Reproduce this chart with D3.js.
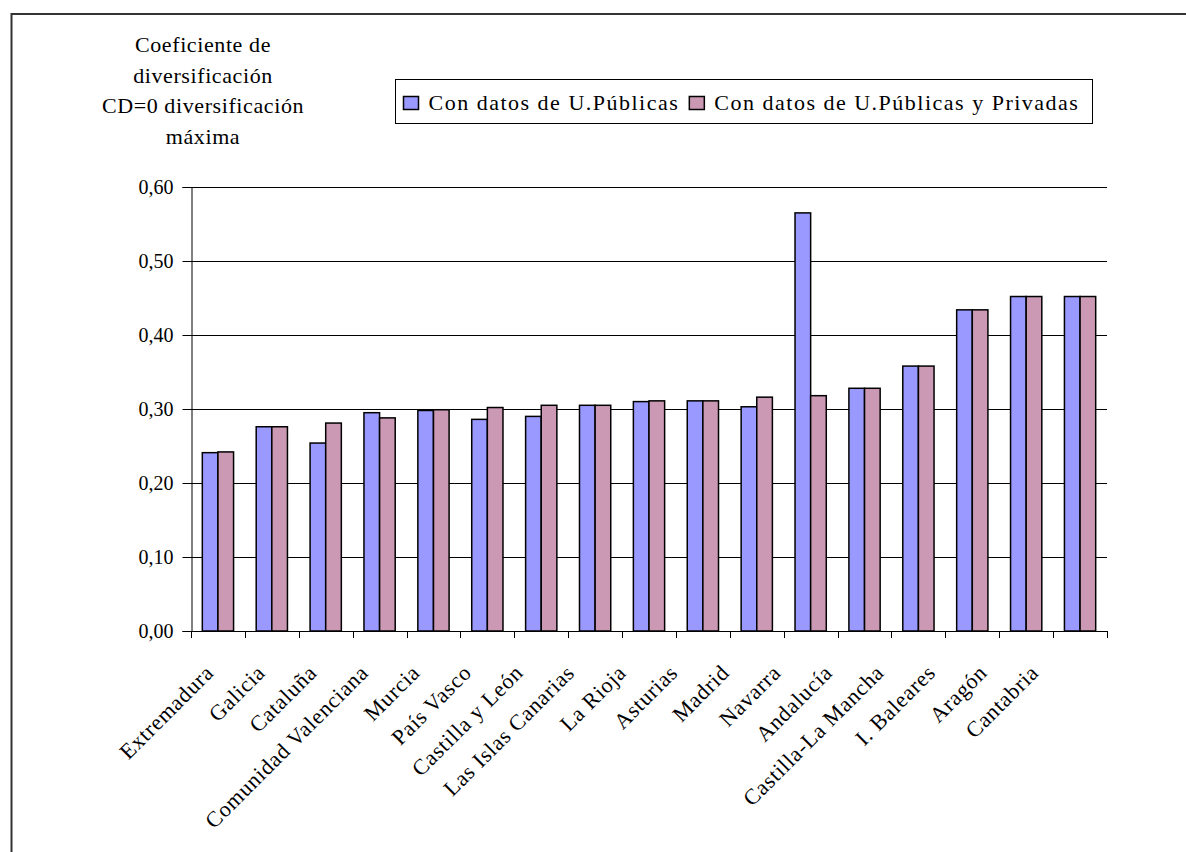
<!DOCTYPE html>
<html>
<head>
<meta charset="utf-8">
<script src="https://cdn.jsdelivr.net/npm/d3@7"></script>
<style>
  html, body { margin: 0; padding: 0; background: #fff; }
  svg { display: block; font-family: "Liberation Serif", "Times New Roman", serif; }
  svg text { font-family: "Liberation Serif", "Times New Roman", serif !important; fill: #000; }
</style>
</head>
<body>
<svg id="chart" width="1186" height="852"></svg>
<script>
const categories = ["Extremadura", "Galicia", "Cataluña", "Comunidad Valenciana", "Murcia", "País Vasco", "Castilla y León", "Las Islas Canarias", "La Rioja", "Asturias", "Madrid", "Navarra", "Andalucía", "Castilla-La Mancha", "I. Baleares", "Aragón", "Cantabria"];
const publicas = [0.241, 0.276, 0.254, 0.295, 0.298, 0.286, 0.290, 0.305, 0.310, 0.311, 0.303, 0.565, 0.328, 0.358, 0.434, 0.452, 0.452];
const publicasPrivadas = [0.242, 0.276, 0.281, 0.288, 0.299, 0.302, 0.305, 0.305, 0.311, 0.311, 0.316, 0.318, 0.328, 0.358, 0.434, 0.452, 0.452];
const seriesNames = ["Con datos de U.Públicas", "Con datos de U.Públicas y Privadas"];
const seriesColors = ["#9999ff", "#cc99b4"];
const yTicks = [0, 0.1, 0.2, 0.3, 0.4, 0.5, 0.6];
const titleLines = ["Coeficiente de", "diversificación", "CD=0 diversificación", "máxima"];

(function () {
const svg = d3.select("#chart");

// outer frame
svg.append("rect").attr("x", 11.5).attr("y", 14).attr("width", 1300).attr("height", 1000)
  .attr("fill", "none").attr("stroke", "#333").attr("stroke-width", 2);

const pLeft = 191, pRight = 1107, pTop = 187, pBottom = 631;
const x = d3.scaleBand().domain(categories).range([pLeft, pRight]).padding(0);
const y = d3.scaleLinear().domain([0, 0.6]).range([pBottom, pTop]);
// label placement scale (labels are slightly compressed relative to the bars)
const xLabel = d3.scalePoint().domain(categories).range([pLeft + 24, pRight - 67]);

// gridlines
svg.append("g").selectAll("line").data(yTicks.filter(d => d > 0)).join("line")
  .attr("x1", pLeft).attr("x2", pRight)
  .attr("y1", d => Math.round(y(d)) + 0.5).attr("y2", d => Math.round(y(d)) + 0.5)
  .attr("stroke", "#000").attr("stroke-width", 1);

// bars
const bw = x.bandwidth() * 0.29;
const data = categories.map((c, i) => ({ c, vals: [publicas[i], publicasPrivadas[i]] }));
const groups = svg.append("g").selectAll("g").data(data).join("g")
  .attr("transform", d => `translate(${x(d.c) + x.bandwidth() / 2 - bw},0)`);
groups.selectAll("rect").data(d => d.vals.map((v, k) => ({ v, k }))).join("rect")
  .attr("x", d => d.k * bw)
  .attr("y", d => y(d.v))
  .attr("width", bw)
  .attr("height", d => pBottom - y(d.v))
  .attr("fill", d => seriesColors[d.k])
  .attr("stroke", "#000").attr("stroke-width", 1.5);

// y axis
const yAxis = d3.axisLeft(y).tickValues(yTicks).tickSize(9).tickPadding(9)
  .tickFormat(d => d3.format(".2f")(d).replace(".", ","));
const gy = svg.append("g").attr("transform", `translate(${pLeft + 0.5},0)`).call(yAxis)
  .attr("font-family", null).attr("font-size", null);
gy.selectAll("path, line").attr("stroke", "#000");
gy.selectAll("text").style("font-size", "20px").attr("dy", "0.34em");

// x axis
const xAxis = d3.axisBottom(x).tickSize(0).tickFormat("");
const gx = svg.append("g").attr("transform", `translate(0,${pBottom + 0.5})`).call(xAxis);
gx.select("path").attr("stroke", "#000").attr("d", `M${pLeft},0H${pRight + 1}`);
// boundary ticks
const bounds = categories.map(c => x(c)).concat([pRight]);
svg.append("g").selectAll("line").data(bounds).join("line")
  .attr("x1", d => Math.round(d) + 0.5).attr("x2", d => Math.round(d) + 0.5)
  .attr("y1", pBottom).attr("y2", pBottom + 7)
  .attr("stroke", "#000");

// category labels
svg.append("g").selectAll("text").data(categories).join("text")
  .attr("transform", d => `translate(${xLabel(d)},${pBottom + 43}) rotate(-45)`)
  .attr("text-anchor", "end")
  .style("font-size", "22px")
  .style("letter-spacing", "0.8px")
  .text(d => d);

// title
svg.append("g").selectAll("text").data(titleLines).join("text")
  .attr("x", 203).attr("y", (d, i) => 52 + i * 30.5)
  .attr("text-anchor", "middle").style("font-size", "22px")
  .style("letter-spacing", "0.6px")
  .text(d => d);

// legend
const lg = svg.append("g");
lg.append("rect").attr("x", 395.5).attr("y", 79.5).attr("width", 697).attr("height", 44)
  .attr("fill", "#fff").attr("stroke", "#000").attr("stroke-width", 1);
const items = lg.selectAll("g").data(seriesNames).join("g");
items.append("rect").attr("y", 96.5).attr("width", 15).attr("height", 13)
  .attr("fill", (d, i) => seriesColors[i]).attr("stroke", "#000").attr("stroke-width", 1.5);
items.append("text").attr("x", 25).attr("y", 110).style("font-size", "22px")
  .style("letter-spacing", "1.5px").text(d => d);
let cx = 403.5;
items.each(function () {
  const g = d3.select(this);
  g.attr("transform", `translate(${cx},0)`);
  const w = g.select("text").node().getComputedTextLength();
  cx += 25 + w + 10;
});
})();
</script>
</body>
</html>
